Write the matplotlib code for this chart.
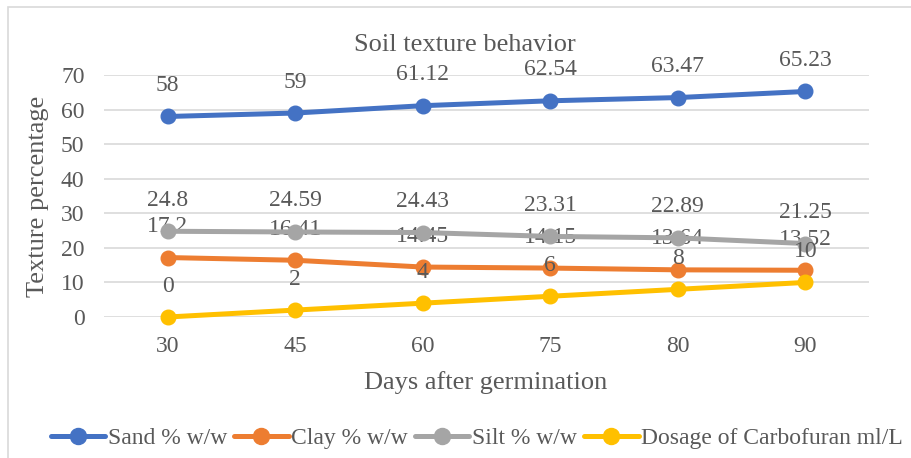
import matplotlib
matplotlib.use("Agg")
import matplotlib.pyplot as plt
from matplotlib.patches import Rectangle

days = ["30", "45", "60", "75", "80", "90"]
sand = [58, 59, 61.12, 62.54, 63.47, 65.23]
clay = [17.2, 16.41, 14.45, 14.15, 13.64, 13.52]
silt = [24.8, 24.59, 24.43, 23.31, 22.89, 21.25]
dosage = [0, 2, 4, 6, 8, 10]
names = ["Sand % w/w", "Clay % w/w", "Silt % w/w", "Dosage of Carbofuran ml/L"]
colors = ["#4472C4", "#ED7D31", "#A5A5A5", "#FFC000"]

plt.rcParams['font.family'] = ['Liberation Serif', 'DejaVu Serif']
txt = "#595959"
W, H = 912, 458
fig = plt.figure(figsize=(W/100, H/100), dpi=100)
ax = fig.add_axes([104/W, 1-317/H, (869-104)/W, (317-75)/H])

x = list(range(len(days)))
series = [sand, clay, silt, dosage]
line_z = [2, 3, 4, 5]
label_z = [7, 3.5, 7, 7]
for vals, name, c, lz, tz in zip(series, names, colors, line_z, label_z):
    ax.plot(x, vals, color=c, lw=3.6, marker='o', markersize=10.5,
            solid_capstyle='round', label=name, zorder=lz, clip_on=False)
    for xi, v in zip(x, vals):
        ax.annotate(f"{v:g}", (xi, v), xytext=(0, 31), textcoords='offset pixels',
                    ha='center', va='center', fontsize=17, color=txt, zorder=tz)

ax.set_xlim(-0.5, 5.5)
ax.set_ylim(0, 70)
ax.set_yticks(range(0, 71, 10))
ax.set_xticks(x)
ax.set_xticklabels(days)
ax.tick_params(length=0, labelsize=17, labelcolor=txt)
ax.tick_params(axis='y', pad=14)
ax.tick_params(axis='x', pad=14)
ax.grid(axis='y', color='#D9D9D9', lw=1.2)
ax.set_axisbelow(True)
for s in ax.spines.values():
    s.set_visible(False)

fig.text(465/W, 1-45/H, "Soil texture behavior", ha='center', va='center',
         fontsize=19, color=txt)
fig.text(486/W, 1-383/H, "Days after germination", ha='center', va='center',
         fontsize=19, color=txt)
fig.text(38/W, 1-196/H, "Texture percentage", ha='center', va='center',
         rotation=90, fontsize=19, color=txt)

leg = fig.legend(loc='center', bbox_to_anchor=(477/W, 1-438/H), ncol=4,
                 frameon=False, fontsize=17, handlelength=2.3, handletextpad=0.12,
                 columnspacing=0.3, borderaxespad=0, markerscale=1.1)
for t in leg.get_texts():
    t.set_color(txt)

fig.patches.append(Rectangle((8/W, -0.05), 1.0, 1-7/H+0.05, transform=fig.transFigure,
                             fill=False, edgecolor='#D9D9D9', lw=1.2))

fig.savefig("out.png", dpi=100)
